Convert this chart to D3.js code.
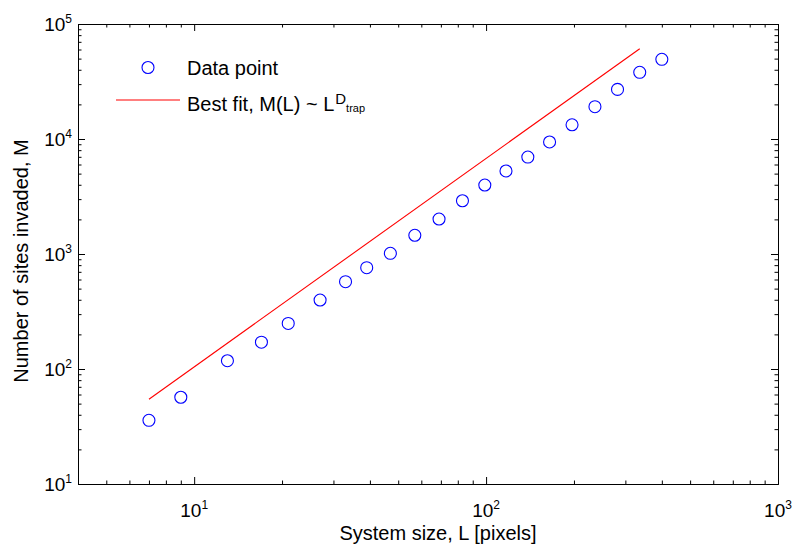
<!DOCTYPE html>
<html>
<head>
<meta charset="utf-8">
<script src="https://cdn.jsdelivr.net/npm/d3@7"></script>
<style>
  html, body { margin: 0; padding: 0; background: #fff; }
  svg text { font-family: "Liberation Sans", Arial, Helvetica, sans-serif; fill: #000; }
</style>
</head>
<body>
<svg id="chart" width="794" height="545"></svg>
<script>
// ---- data ----
const systemSize = [7, 9, 13, 17, 21, 27, 33, 39, 47, 57, 69, 83, 99, 117, 139, 165, 197, 236, 282, 336, 400];
const sitesInvaded = [35.8, 56.8, 118, 171, 249, 398, 574, 760, 1014, 1455, 2015, 2904, 3980, 5270, 6970, 9420, 13300, 19100, 27000, 38000, 49300];
const fitL = [7, 336];
const fitM = [54.6, 61000];
const xTickValues = [10, 100, 1000];
const xTickExponents = ["1", "2", "3"];
const yTickValues = [10, 100, 1000, 10000, 100000];
const yTickExponents = ["1", "2", "3", "4", "5"];
const legendLabels = ["Data point", "Best fit, M(L) ~ L"];

(function () {
// ---- layout ----
const svg = d3.select("#chart");
const pl = 78, pr = 778, pt = 24, pb = 484;

const x = d3.scaleLog().domain([4, 1000]).range([pl, pr]);
const y = d3.scaleLog().domain([10, 100000]).range([pb, pt]);

// minor ticks
const xMinor = [];
[1, 10, 100].forEach(d => { for (let k = 2; k <= 9; k++) { const v = d * k; if (v > 4 && v < 1000) xMinor.push(v); } });
const yMinor = [];
[10, 100, 1000, 10000].forEach(d => { for (let k = 2; k <= 9; k++) yMinor.push(d * k); });

function styleAxis(g) {
  g.selectAll("path.domain").attr("stroke", "#000").attr("stroke-width", 1);
  g.selectAll(".tick line").attr("stroke", "#000").attr("stroke-width", 1);
  g.selectAll(".tick text").remove();
}

function addAxis(axisFn, tx, ty, vals, size) {
  svg.append("g").attr("transform", `translate(${tx},${ty})`)
    .call(axisFn.tickValues(vals).tickSizeInner(size).tickSizeOuter(0).tickFormat(""))
    .call(styleAxis);
}
addAxis(d3.axisBottom(x), 0, pb, xTickValues, -7);
addAxis(d3.axisBottom(x), 0, pb, xMinor, -3.5);
addAxis(d3.axisTop(x), 0, pt, xTickValues, -7);
addAxis(d3.axisTop(x), 0, pt, xMinor, -3.5);
addAxis(d3.axisLeft(y), pl, 0, yTickValues, -7);
addAxis(d3.axisLeft(y), pl, 0, yMinor, -3.5);
addAxis(d3.axisRight(y), pr, 0, yTickValues, -7);
addAxis(d3.axisRight(y), pr, 0, yMinor, -3.5);

// x tick labels
xTickValues.forEach((v, i) => {
  const t = svg.append("text").attr("x", x(v)).attr("y", 517)
    .attr("text-anchor", "middle").attr("font-size", 19);
  t.append("tspan").text("10");
  t.append("tspan").attr("dy", -8.5).attr("font-size", 12).text(xTickExponents[i]);
});
// y tick labels
yTickValues.forEach((v, i) => {
  const t = svg.append("text").attr("x", 72).attr("y", y(v) + 7)
    .attr("text-anchor", "end").attr("font-size", 19);
  t.append("tspan").text("10");
  t.append("tspan").attr("dy", -8.5).attr("font-size", 12).text(yTickExponents[i]);
});

// axis labels
svg.append("text").attr("x", 438).attr("y", 540).attr("text-anchor", "middle")
  .attr("font-size", 20).text("System size, L [pixels]");
svg.append("text").attr("transform", "translate(28,261) rotate(-90)").attr("text-anchor", "middle")
  .attr("font-size", 20).text("Number of sites invaded, M");

// fit line
svg.append("path")
  .datum(fitL.map((l, i) => [l, fitM[i]]))
  .attr("d", d3.line().x(d => x(d[0])).y(d => y(d[1])))
  .attr("fill", "none").attr("stroke", "#ff0000").attr("stroke-width", 1.1);

// data points
svg.append("g").selectAll("circle")
  .data(systemSize.map((l, i) => [l, sitesInvaded[i]]))
  .join("circle")
  .attr("cx", d => x(d[0])).attr("cy", d => y(d[1])).attr("r", 6)
  .attr("fill", "none").attr("stroke", "#0000ff").attr("stroke-width", 1.1);

// legend
const lg = svg.append("g");
lg.append("circle").attr("cx", 148).attr("cy", 67.5).attr("r", 6)
  .attr("fill", "none").attr("stroke", "#0000ff").attr("stroke-width", 1.1);
lg.append("text").attr("x", 187).attr("y", 75).attr("font-size", 20).text(legendLabels[0]);
lg.append("line").attr("x1", 116).attr("x2", 180).attr("y1", 100).attr("y2", 100)
  .attr("stroke", "#ff0000").attr("stroke-width", 1.1);
const lt = lg.append("text").attr("x", 187).attr("y", 111).attr("font-size", 20);
lt.append("tspan").text(legendLabels[1]);
lt.append("tspan").attr("dx", 1).attr("dy", -7).attr("font-size", 15).text("D");
lt.append("tspan").attr("dx", 0).attr("dy", 8).attr("font-size", 11).text("trap");
})();
</script>
</body>
</html>
